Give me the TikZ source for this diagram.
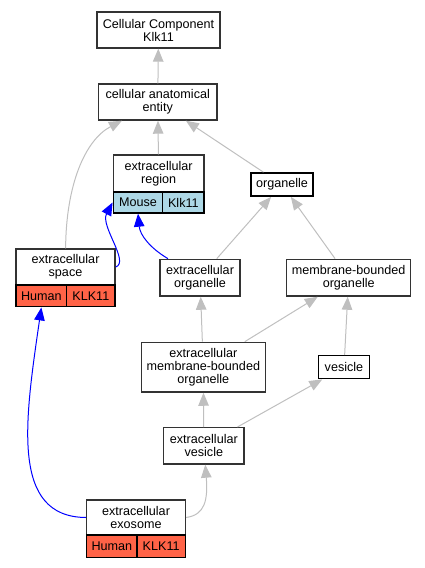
\documentclass[tikz,border=0pt]{standalone}
\usepackage{fontspec}
\setmainfont{Liberation Sans}
\usepackage{xcolor}
\usetikzlibrary{arrows.meta}
\definecolor{mouseblue}{HTML}{ADD8E6}
\definecolor{humanred}{HTML}{FF6347}
\tikzset{box/.style={rectangle,draw=black!80,line width=1.4pt,inner sep=0pt,align=center,font=\fontsize{12.6}{13}\selectfont}}
\tikzset{cell/.style={box,draw=black}}
\tikzset{gr/.style={draw=black!25,line width=1pt,-{Triangle[length=13pt,width=10.5pt]}},
         bl/.style={draw=blue,line width=1pt,-{Triangle[length=13pt,width=10.5pt]}}}
\begin{document}
\begin{tikzpicture}[x=1pt,y=-1pt]
        \useasboundingbox (0,0) rectangle (425,568);
        \node[box,minimum width=123pt,minimum height=36pt] (a)at (158.5,30) {Cellular Component\\Klk11};
        \node[box,minimum width=118.5pt,minimum height=36pt] (b)at (157.75,102) {cellular anatomical\\entity};
        \node[box,minimum width=90.7pt,minimum height=37pt] (c)at (158.65,173.5) {extracellular\\region};
        \node[cell,fill=mouseblue,minimum width=49.4pt,minimum height=21pt] (c1)at (138,202.5) {Mouse};
        \node[cell,fill=mouseblue,minimum width=41.3pt,minimum height=21pt] (c2)at (183.35,202.5) {Klk11};
        \node[box,draw=black,minimum width=62.3pt,minimum height=23.3pt] (d)at (282,184.5) {organelle};
        \node[box,minimum width=99pt,minimum height=36pt] (e)at (65.5,267) {extracellular\\space};
        \node[cell,fill=humanred,minimum width=50.7pt,minimum height=21.7pt] (e1)at (41.35,295.85) {Human};
        \node[cell,fill=humanred,minimum width=48.3pt,minimum height=21.7pt] (e2)at (90.85,295.85) {KLK11};
        \node[box,minimum width=80pt,minimum height=36.7pt] (f)at (200,277.7) {extracellular\\organelle};
        \node[box,minimum width=124pt,minimum height=36.7pt] (g)at (348.7,277.7) {membrane-bounded\\organelle};
        \node[box,minimum width=124pt,minimum height=49.7pt] (h)at (203.3,367.2) {extracellular\\membrane-bounded\\organelle};
        \node[box,draw=black,minimum width=50.6pt,minimum height=23pt] (i)at (344,367.2) {vesicle};
        \node[box,minimum width=80.3pt,minimum height=36.3pt] (j)at (203.85,445.85) {extracellular\\vesicle};
        \node[box,minimum width=98.6pt,minimum height=35pt] (k)at (136,517.5) {extracellular\\exosome};
        \node[cell,fill=humanred,minimum width=50.3pt,minimum height=22.3pt] (k1)at (111.85,546.15) {Human};
        \node[cell,fill=humanred,minimum width=48.3pt,minimum height=22.3pt] (k2)at (161.15,546.15) {KLK11};

        \draw [gr] (b) to [] (a);
        \draw [gr] (c) to [] (b);
        \draw [gr] (d) to [] (b);
        \draw [gr] (e) .. controls (66,185) and (85,140) .. (b);
        \draw [gr] (f) to [] (d);
        \draw [gr] (g) to [] (d);
        \draw [gr] (h) to [] (f);
        \draw [gr] (h) to [] (g);
        \draw [gr] (i) to [] (g);
        \draw [gr] (j) to [] (h);
        \draw [gr] (j) to [] (i);
        \draw [gr] (k.east) .. controls (205,515) and (208,500) .. (j);
        \draw [bl] (e.east) .. controls (130,262) and (100,226) .. (c1.west);
        \draw [bl] (f) .. controls (150,248) and (140,235) .. (c1.south);
        \draw [bl] (k.west) .. controls (10,517) and (25,420) .. (e1.south);
    \end{tikzpicture}
\end{document}
